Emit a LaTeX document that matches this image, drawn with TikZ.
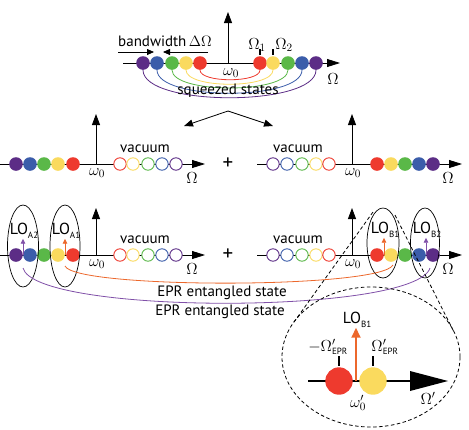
\RequirePackage{fix-cm}
\documentclass[tikz,border=0pt]{standalone}
\usepackage{fontspec}
\setmainfont{PT Sans}
\usetikzlibrary{arrows.meta}
\definecolor{cpur}{RGB}{92,45,134}
\definecolor{cblu}{RGB}{59,93,170}
\definecolor{cgrn}{RGB}{90,184,72}
\definecolor{cyel}{RGB}{250,218,94}
\definecolor{cred}{RGB}{238,58,46}
\definecolor{cora}{RGB}{236,104,44}
\definecolor{cpl}{RGB}{128,80,168}
\pgfdeclarelayer{bg}
\pgfsetlayers{bg,main}
\newcommand{\sbs}[1]{\raisebox{-0.45ex}{\fontsize{9}{9}\selectfont #1}}
\begin{document}
\begin{tikzpicture}[x=1pt,y=-1pt,
  dot/.style={circle,inner sep=0pt,minimum size=13.6pt,draw=none},
  hol/.style={circle,inner sep=0pt,minimum size=12.4pt,line width=0.9pt,fill=white},
  ax/.style={line width=0.8pt,-{Triangle[length=13pt,width=8pt]}},
  vax/.style={line width=0.8pt,-{Triangle[length=11pt,width=8pt]}},
  txt/.style={inner sep=0pt,font=\fontsize{15}{17}\selectfont},
  mth/.style={inner sep=0pt,font=\fontsize{16}{18}\selectfont},
  lo/.style={inner sep=0pt,font=\fontsize{16}{18}\selectfont},
  ell/.style={line width=0.7pt},
  dsh/.style={line width=0.8pt,dash pattern=on 3.5pt off 2.5pt},
  sarr/.style={line width=0.9pt,-{Triangle[length=5pt,width=4.5pt]}}
]
\useasboundingbox (0,0) rectangle (469,429);

% ---------------- top row ----------------
\coordinate (ta0) at (123,63); \coordinate (ta1) at (340,63);
\coordinate (tv0) at (228,63); \coordinate (tv1) at (228,12);
\draw[ax] (ta0) -- (ta1);
\draw[vax] (tv0) -- (tv1);
\foreach \x/\c/\n in {143/cpur/1,157/cblu/2,172/cgrn/3,186/cyel/4,200/cred/5}
  \node[dot,fill=\c] (tl\n) at (\x,63) {};
\foreach \x/\c/\n in {260/cred/1,273/cyel/2,288/cgrn/3,302/cblu/4,316/cpur/5}
  \node[dot,fill=\c] (tr\n) at (\x,63) {};
\begin{pgfonlayer}{bg}
\draw[cred,line width=0.8pt] (tl5.center) -- (tl5.south) .. controls +(0,13) and +(0,13) .. (tr1.south) -- (tr1.center);
\draw[cyel,line width=0.8pt] (tl4.center) -- (tl4.south) .. controls +(0,19) and +(0,19) .. (tr2.south) -- (tr2.center);
\draw[cgrn,line width=0.8pt] (tl3.center) -- (tl3.south) .. controls +(0,24) and +(0,24) .. (tr3.south) -- (tr3.center);
\draw[cblu,line width=0.8pt] (tl2.center) -- (tl2.south) .. controls +(0,31) and +(0,31) .. (tr4.south) -- (tr4.center);
\draw[cpur,line width=0.8pt] (tl1.center) -- (tl1.south) .. controls +(0,37) and +(0,37) .. (tr5.south) -- (tr5.center);
\end{pgfonlayer}
\node[txt] (sq) at (228,91) {squeezed states};
\node[mth] (tw) at (231,73) {$\omega_0$};
\node[mth] (tO) at (333,79) {$\Omega$};
\node[mth] (tO1) at (257,45) {$\Omega_1$};
\node[mth] (tO2) at (284,45) {$\Omega_2$};
\draw[line width=1.2pt] (tr1.north) ++(0,-1) -- ++(0,-6);
\draw[line width=1.2pt] (tr2.north) ++(0,-1) -- ++(0,-6);
\node[txt] (bw) at (165,41) {bandwidth\,$\Delta\Omega$};
\coordinate (bw0) at (118,52); \coordinate (bw1) at (154,52);
\coordinate (bw2) at (208,52); \coordinate (bw3) at (163,52);
\draw[line width=0.8pt,-{Triangle[length=7pt,width=6pt]}] (bw0) -- (bw1);
\draw[line width=0.8pt,-{Triangle[length=7pt,width=6pt]}] (bw2) -- (bw3);

% split arrows
\coordinate (sp) at (228,111);
\coordinate (spl) at (184,126); \coordinate (spr) at (273,126);
\draw[line width=0.8pt,-{Triangle[length=9pt,width=7pt]}] (sp) -- (spl);
\draw[line width=0.8pt,-{Triangle[length=9pt,width=7pt]}] (sp) -- (spr);

% ---------------- middle and bottom rows ----------------
\foreach \yy/\tp/\r in {164/114/m,255/208/b}{
  \coordinate (\r la0) at (0,\yy); \coordinate (\r la1) at (205,\yy);
  \coordinate (\r lv0) at (96,\yy); \coordinate (\r lv1) at (96,\tp);
  \coordinate (\r ra0) at (257,\yy); \coordinate (\r ra1) at (462,\yy);
  \coordinate (\r rv0) at (352,\yy); \coordinate (\r rv1) at (352,\tp);
  \draw[ax] (\r la0) -- (\r la1);
  \draw[vax] (\r lv0) -- (\r lv1);
  \draw[ax] (\r ra0) -- (\r ra1);
  \draw[vax] (\r rv0) -- (\r rv1);
  \foreach \x/\c/\n in {16/cpur/1,30/cblu/2,44/cgrn/3,58/cyel/4,73/cred/5}
    \node[dot,fill=\c] (\r lf\n) at (\x,\yy) {};
  \foreach \x/\c/\n in {120/cred/1,133/cyel/2,148/cgrn/3,162/cblu/4,176/cpur/5}
    \node[hol,draw=\c] (\r lh\n) at (\x,\yy) {};
  \foreach \x/\c/\n in {273/cpur/1,287/cblu/2,302/cgrn/3,316/cyel/4,329/cred/5}
    \node[hol,draw=\c] (\r rh\n) at (\x,\yy) {};
  \foreach \x/\c/\n in {377/cred/1,391/cyel/2,405/cgrn/3,419/cblu/4,433/cpur/5}
    \node[dot,fill=\c] (\r rf\n) at (\x,\yy) {};
  \node[txt] (\r vl) at (145,\yy-15) {vacuum};
  \node[txt] (\r vr) at (298,\yy-15) {vacuum};
  \node[mth] (\r wl) at (97,\yy+9) {$\omega_0$};
  \node[mth] (\r wr) at (353,\yy+9) {$\omega_0$};
  \node[mth] (\r Ol) at (192,\yy+14) {$\Omega$};
  \node[mth] (\r Or) at (448,\yy+14) {$\Omega$};
  \node[inner sep=0pt,font=\fontsize{21}{21}\selectfont] (\r plus) at (228,\yy) {+};
}

% ---------------- bottom row extras ----------------
\draw[ell] (23,246) ellipse [x radius=15.5pt, y radius=41pt];
\draw[ell] (65,246) ellipse [x radius=15pt, y radius=41pt];
\draw[ell] (383,243) ellipse [x radius=16pt, y radius=35pt];
\draw[ell] (425,243) ellipse [x radius=14.5pt, y radius=35pt];
\node[lo] (loa2) at (24,231) {LO\sbs{A2}};
\node[lo] (loa1) at (66,231) {LO\sbs{A1}};
\node[lo] (lob1) at (385,230) {LO\sbs{B1}};
\node[lo] (lob2) at (427,230) {LO\sbs{B2}};
\coordinate (ra2) at (23,255); \coordinate (ra1) at (65,255);
\coordinate (rb1) at (384,255); \coordinate (rb2) at (426,255);
\draw[sarr,cpl] (ra2) -- (loa2.south -| ra2);
\draw[sarr,cora] (ra1) -- (loa1.south -| ra1);
\draw[sarr,cora] (rb1) -- (lob1.south -| rb1);
\draw[sarr,cpl] (rb2) -- (lob2.south -| rb2);

% EPR connections
\coordinate (oa) at (65,266); \coordinate (ob) at (393,265);
\coordinate (pa) at (23,268); \coordinate (pb) at (430,268);
\draw[cora,line width=0.8pt] (oa) .. controls (75,289) and (380,289) .. (ob);
\draw[cpl,line width=0.8pt] (pa) .. controls (35,315) and (415,315) .. (pb);
\node[txt] (epr1) at (222,293) {EPR entangled state};
\node[txt] (epr2) at (220,312) {EPR entangled state};

% ---------------- magnifier ----------------
\draw[dsh] (371,357) ellipse [x radius=89pt, y radius=70pt];
\coordinate (d1a) at (373,212); \coordinate (d1b) at (294,322);
\coordinate (d2a) at (395,215); \coordinate (d2b) at (454,332);
\draw[dsh] (d1a) -- (d1b);
\draw[dsh] (d2a) -- (d2b);

\coordinate (ma0) at (308,381); \coordinate (ma1) at (412,381);
\draw[line width=2.2pt] (ma0) -- (ma1);
\fill (410,371) -- (448,381) -- (410,391) -- cycle;
\node[circle,inner sep=0pt,minimum size=27.4pt,fill=cred] (mr) at (339,381) {};
\node[circle,inner sep=0pt,minimum size=27.4pt,fill=cyel] (my) at (373,381) {};
\draw[line width=2pt] (339,356) -- (339,366);
\draw[line width=2pt] (373,356) -- (373,366);
\node[lo] (mlo) at (357,320) {LO\sbs{B1}};
\coordinate (mo) at (356,381);
\draw[cora,line width=1.8pt,-{Triangle[length=10pt,width=9pt]}] (mo) -- (mlo.south -| mo);
\node[mth] (mneg) at (328,347) {$-\Omega'_{\hbox{\fontsize{9}{9}\selectfont EPR}}$};
\node[mth] (mpos) at (385,347) {$\Omega'_{\hbox{\fontsize{9}{9}\selectfont EPR}}$};
\node[mth] (mw) at (358,403) {$\omega'_0$};
\node[mth] (mO) at (428,398) {$\Omega'$};
\end{tikzpicture}
\end{document}
